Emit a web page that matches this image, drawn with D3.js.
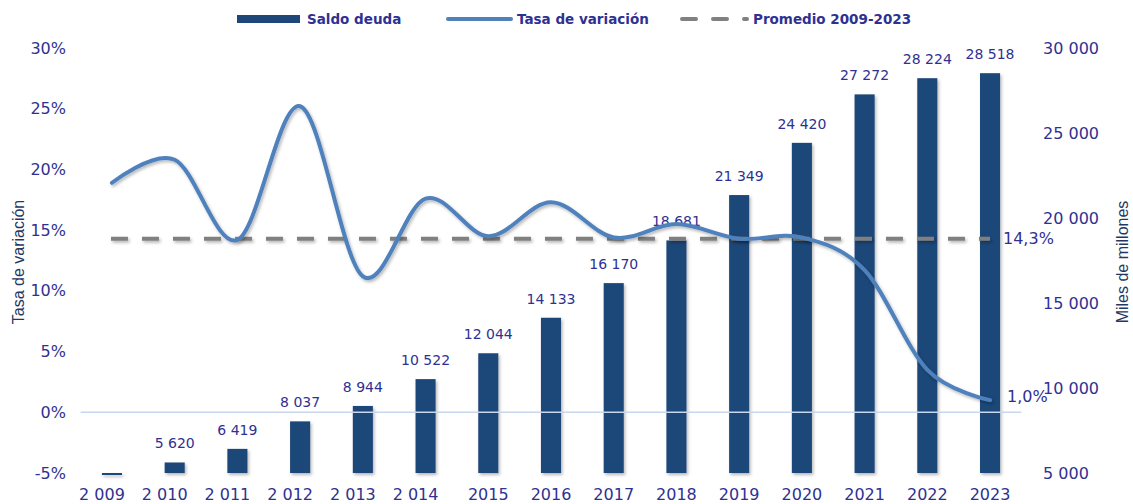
<!DOCTYPE html>
<html>
<head>
<meta charset="utf-8">
<script src="https://cdn.jsdelivr.net/npm/d3@7"></script>
<style>
  body { margin: 0; background: #fff; }
  svg { display: block; }
</style>
</head>
<body>
<div id="chart"></div>
<script>
// data
var years = ["2009", "2010", "2011", "2012", "2013", "2014", "2015", "2016", "2017", "2018", "2019", "2020", "2021", "2022", "2023"];
var yearLabels = ["2 009", "2 010", "2 011", "2 012", "2 013", "2 014", "2015", "2016", "2017", "2018", "2019", "2020", "2021", "2022", "2023"];
var saldoDeuda = [4652, 5620, 6419, 8037, 8944, 10522, 12044, 14133, 16170, 18681, 21349, 24420, 27272, 28224, 28518];
var tasaVariacion = [18.9, 20.8, 14.2, 25.2, 11.2, 17.6, 14.5, 17.3, 14.4, 15.5, 14.3, 14.4, 11.7, 3.5, 1.0];
var promedio = 14.3;
var leftTicks = [-5, 0, 5, 10, 15, 20, 25, 30];
var rightTicks = [5000, 10000, 15000, 20000, 25000, 30000];

var svgWidth = 1133;
var svgHeight = 504;

var textColor = "#2f3192";
var barColor = "#1f4679";
var lineColor = "#4f81bd";
var dashColor = "#808080";

var svg = d3.select("#chart")
  .append("svg")
  .attr("width", svgWidth)
  .attr("height", svgHeight);

// soft shadow like the office chart (user space so flat lines keep it)
var defs = svg.append("defs");
var shadow = defs.append("filter")
  .attr("id", "shadow")
  .attr("filterUnits", "userSpaceOnUse")
  .attr("x", 0).attr("y", 0)
  .attr("width", svgWidth).attr("height", svgHeight);
shadow.append("feDropShadow")
  .attr("dx", 1.5)
  .attr("dy", 2)
  .attr("stdDeviation", 1.6)
  .attr("flood-color", "#000")
  .attr("flood-opacity", 0.28);

// scales
var x = d3.scaleBand()
  .domain(years)
  .range([80.6, 1021.4])
  .paddingInner(0.68)
  .paddingOuter(0.34);

var yLeft = d3.scaleLinear().domain([-5, 30]).range([473, 48]);
var yRight = d3.scaleLinear().domain([5000, 30000]).range([473, 48]);

var fmtThousands = function (v) { return d3.format(",")(v).replace(/,/g, " "); };
var fmtPct = function (v) { return d3.format(".1f")(v).replace(".", ",") + "%"; };

// left axis
var leftAxis = svg.append("g")
  .attr("transform", "translate(66,0)")
  .call(d3.axisLeft(yLeft).tickValues(leftTicks).tickSize(0).tickPadding(0).tickFormat(d => d + "%"));
leftAxis.select(".domain").remove();
leftAxis.selectAll("text")
  .attr("fill", textColor)
  .style("font-family", "DejaVu Sans")
  .style("font-size", "16px");

// right axis
var rightAxis = svg.append("g")
  .attr("transform", "translate(1043,0)")
  .call(d3.axisRight(yRight).tickValues(rightTicks).tickSize(0).tickPadding(0).tickFormat(fmtThousands));
rightAxis.select(".domain").remove();
rightAxis.selectAll("text")
  .attr("fill", textColor)
  .style("font-family", "DejaVu Sans")
  .style("font-size", "16px");

// x axis labels
var xAxis = svg.append("g")
  .attr("transform", "translate(0,494)")
  .call(d3.axisBottom(x).tickSize(0).tickPadding(0).tickFormat((d, i) => yearLabels[i]));
xAxis.select(".domain").remove();
xAxis.selectAll("text")
  .attr("fill", textColor)
  .attr("dy", "0.35em")
  .attr("dx", (d, i) => yearLabels[i].indexOf(" ") >= 0 ? -10 : 0)
  .style("font-family", "DejaVu Sans")
  .style("font-size", "16px");

// bars
svg.append("g")
  .selectAll("rect")
  .data(saldoDeuda)
  .enter()
  .append("rect")
  .attr("x", (d, i) => x(years[i]))
  .attr("width", x.bandwidth())
  .attr("y", d => Math.min(yRight(d), yRight(5000)))
  .attr("height", d => Math.max(2, yRight(5000) - yRight(d)))
  .attr("fill", barColor)
  .attr("filter", "url(#shadow)");

// bar labels (2009 is under the axis minimum and has none)
svg.append("g")
  .selectAll("text")
  .data(saldoDeuda)
  .enter()
  .filter(d => d >= 5000)
  .append("text")
  .attr("x", (d) => x(years[saldoDeuda.indexOf(d)]) + x.bandwidth() / 2)
  .attr("y", d => yRight(d) - 14)
  .attr("text-anchor", "middle")
  .attr("fill", textColor)
  .style("font-family", "DejaVu Sans")
  .style("font-size", "14px")
  .text(d => fmtThousands(d));

// zero line of the left axis
svg.append("line")
  .attr("x1", 80.6)
  .attr("x2", 1021.4)
  .attr("y1", yLeft(0))
  .attr("y2", yLeft(0))
  .attr("stroke", "#c8d6ee")
  .attr("stroke-width", 1.5);

// average dashed line
svg.append("line")
  .attr("x1", x(years[0]) + x.bandwidth() / 2 - 1)
  .attr("x2", x(years[years.length - 1]) + x.bandwidth() / 2)
  .attr("y1", yLeft(promedio))
  .attr("y2", yLeft(promedio))
  .attr("stroke", dashColor)
  .attr("stroke-width", 4)
  .attr("stroke-dasharray", "17,14")
  .attr("filter", "url(#shadow)");

// growth rate smooth line
var line = d3.line()
  .x((d, i) => x(years[i]) + x.bandwidth() / 2)
  .y(d => yLeft(d))
  .curve(d3.curveCardinal.tension(0));

svg.append("path")
  .datum(tasaVariacion)
  .attr("d", line)
  .attr("fill", "none")
  .attr("stroke", lineColor)
  .attr("stroke-width", 4)
  .attr("stroke-linecap", "round")
  .attr("filter", "url(#shadow)");

// end labels
svg.append("text")
  .attr("x", 1003)
  .attr("y", yLeft(promedio))
  .attr("dy", "0.35em")
  .attr("fill", textColor)
  .style("font-family", "DejaVu Sans")
  .style("font-size", "16px")
  .text(fmtPct(promedio));

svg.append("text")
  .attr("x", 1007)
  .attr("y", yLeft(tasaVariacion[tasaVariacion.length - 1]) - 4)
  .attr("dy", "0.35em")
  .attr("fill", textColor)
  .style("font-family", "DejaVu Sans")
  .style("font-size", "16px")
  .text(fmtPct(tasaVariacion[tasaVariacion.length - 1]));

// axis titles
svg.append("text")
  .attr("transform", "translate(24,262) rotate(-90)")
  .attr("text-anchor", "middle")
  .attr("fill", "#1f3864")
  .style("font-family", "Liberation Sans")
  .style("font-size", "16px")
  .text("Tasa de variación");

svg.append("text")
  .attr("transform", "translate(1128,262) rotate(-90)")
  .attr("text-anchor", "middle")
  .attr("fill", "#1f3864")
  .style("font-family", "Liberation Sans")
  .style("font-size", "16px")
  .text("Miles de millones");

// legend
var legend = svg.append("g").style("font-family", "DejaVu Sans").style("font-size", "13.5px").style("font-weight", "bold");

legend.append("rect")
  .attr("x", 237).attr("y", 15).attr("width", 63).attr("height", 8)
  .attr("fill", barColor);
legend.append("text")
  .attr("x", 307).attr("y", 19).attr("dy", "0.35em")
  .attr("fill", textColor).text("Saldo deuda");

legend.append("line")
  .attr("x1", 448).attr("x2", 511).attr("y1", 19).attr("y2", 19)
  .attr("stroke", lineColor).attr("stroke-width", 4).attr("stroke-linecap", "round");
legend.append("text")
  .attr("x", 517).attr("y", 19).attr("dy", "0.35em")
  .attr("fill", textColor).text("Tasa de variación");

legend.append("line")
  .attr("x1", 682).attr("x2", 747).attr("y1", 19).attr("y2", 19)
  .attr("stroke", dashColor).attr("stroke-width", 4).attr("stroke-linecap", "round")
  .attr("stroke-dasharray", "14,17");
legend.append("text")
  .attr("x", 753).attr("y", 19).attr("dy", "0.35em")
  .attr("fill", textColor).text("Promedio 2009-2023");
</script>
</body>
</html>
